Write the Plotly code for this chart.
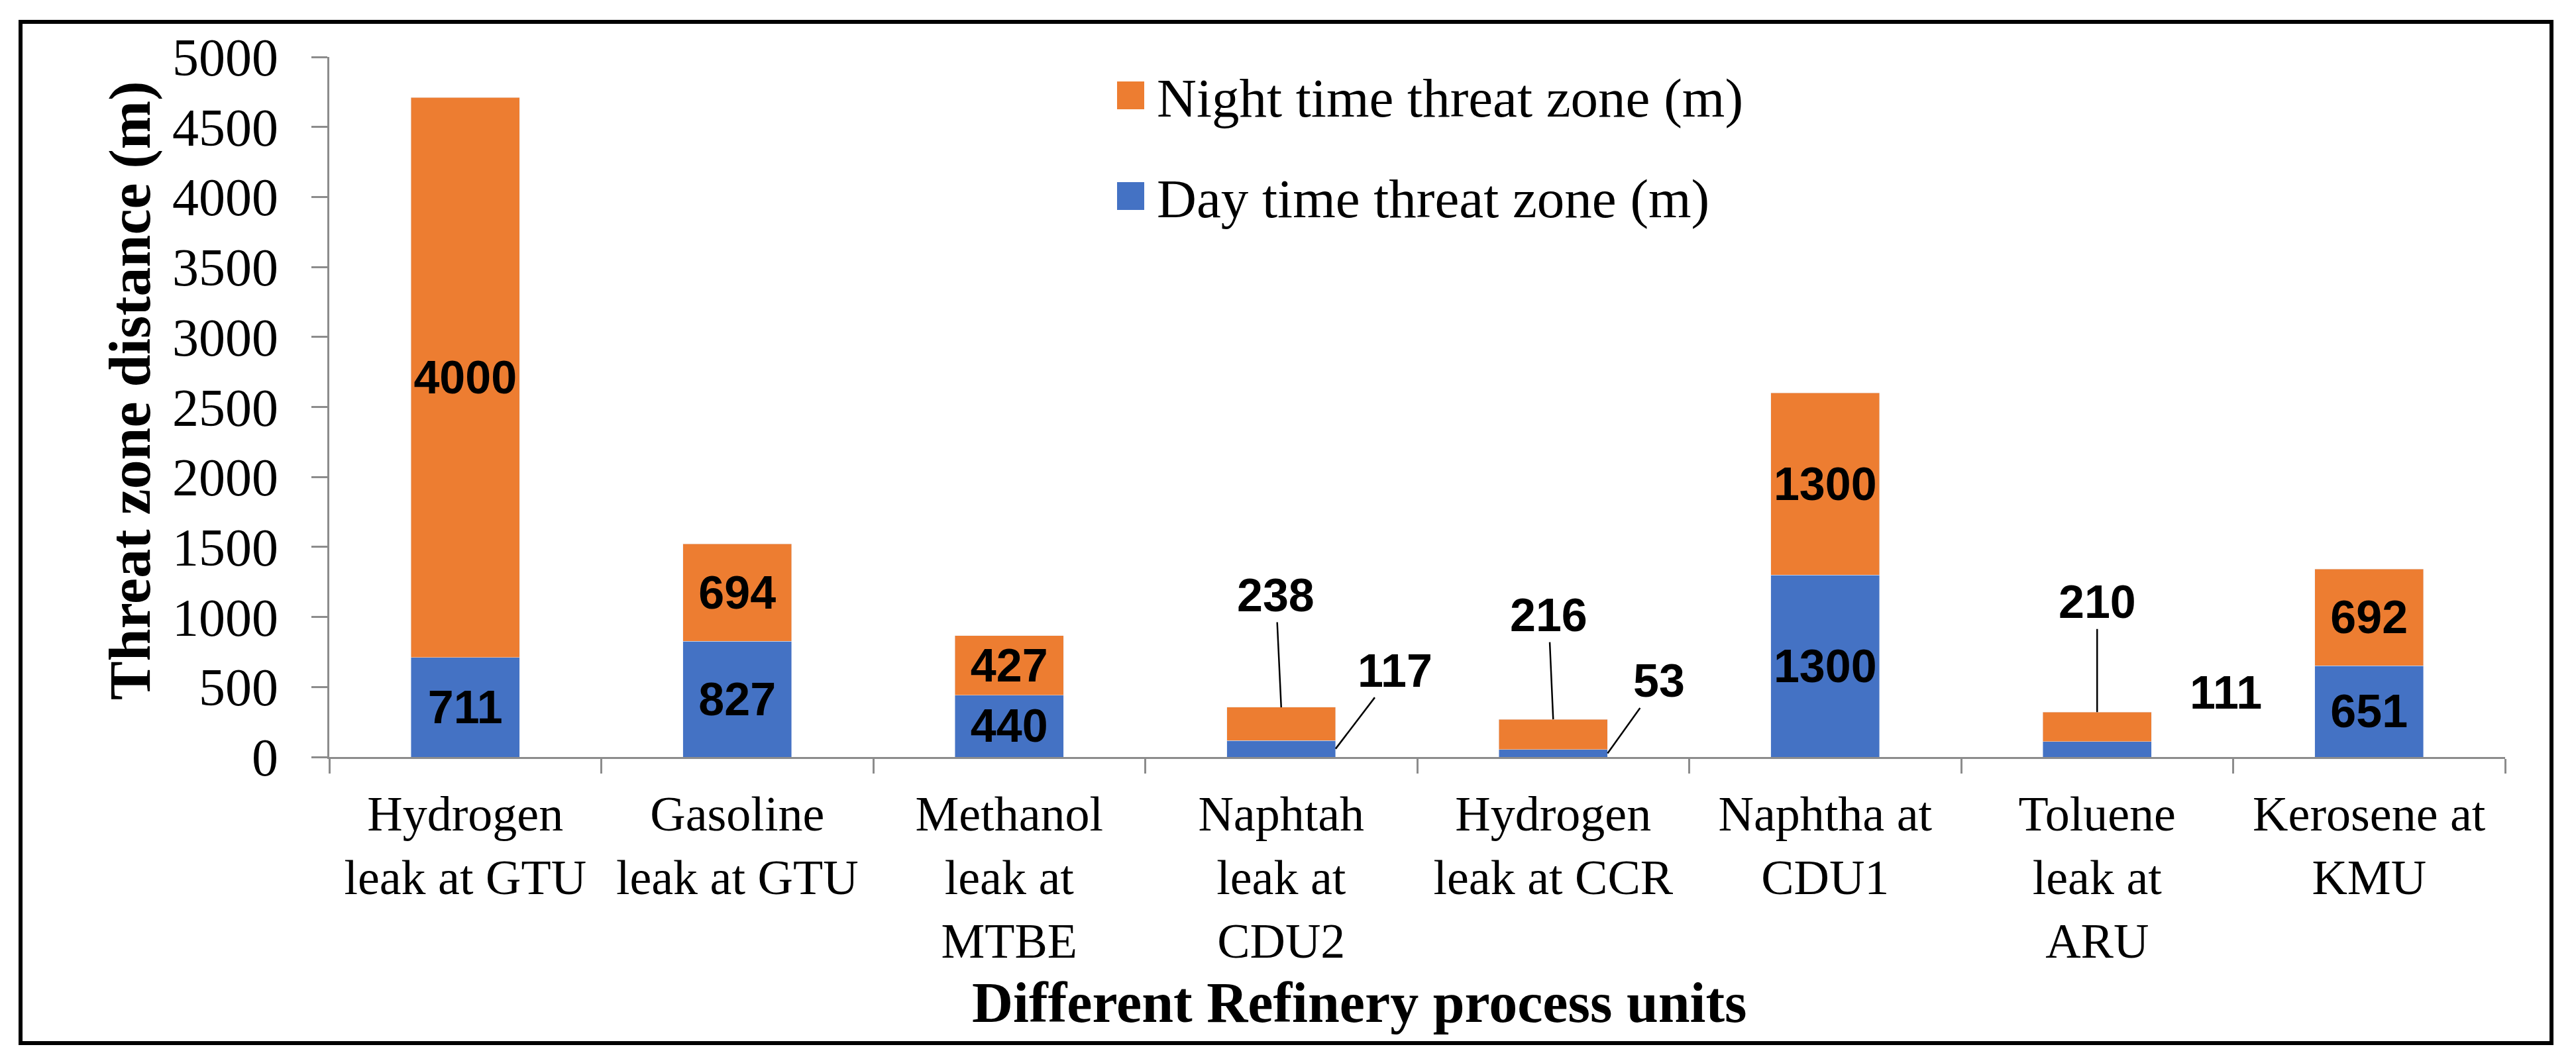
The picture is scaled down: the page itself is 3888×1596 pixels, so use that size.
import plotly.graph_objects as go

# Threat zone distances
categories = [
    "Hydrogen<br>leak at GTU",
    "Gasoline<br>leak at GTU",
    "Methanol<br>leak at<br>MTBE",
    "Naphtah<br>leak at<br>CDU2",
    "Hydrogen<br>leak at CCR",
    "Naphtha at<br>CDU1",
    "Toluene<br>leak at<br>ARU",
    "Kerosene at<br>KMU",
]
day_zone = [711, 827, 440, 117, 53, 1300, 111, 651]
night_zone = [4000, 694, 427, 238, 216, 1300, 210, 692]
y_ticks = [0, 500, 1000, 1500, 2000, 2500, 3000, 3500, 4000, 4500, 5000]

DAY_NAME = "Day time threat zone (m)"
NIGHT_NAME = "Night time threat zone (m)"
DAY_COLOR = "#4472C4"
NIGHT_COLOR = "#ED7D31"
AXIS_GRAY = "#8C8C8C"
SERIF = "Liberation Serif, Times New Roman, serif"
LABEL_FONT = dict(family="Liberation Sans, Arial, sans-serif", size=70, color="black", weight="bold")

# page is 3888x1596, the html body adds an 8px margin around the figure
PAGE_W, PAGE_H, OFF = 3888, 1596, 8
W, H = PAGE_W - 2 * OFF, PAGE_H - 2 * OFF
# plot area in page pixels
L, R, T, B = 497 - OFF, 3781 - OFF, 86 - OFF, 1143 - OFF
BAR_WIDTH = 0.4


def px_x(x):
    return (x - OFF - L) / (R - L)


def px_y(y):
    return (B - (y - OFF)) / (B - T)


# segments too thin for their label get it outside, with a leader line
INSIDE_MIN = 300
day_text = [str(v) if v >= INSIDE_MIN else "" for v in day_zone]
night_text = [str(v) if v >= INSIDE_MIN else "" for v in night_zone]

fig = go.Figure()
fig.add_bar(x=categories, y=day_zone, name=DAY_NAME, marker_color=DAY_COLOR,
            text=day_text, textposition="inside", insidetextanchor="middle",
            textangle=0, constraintext="none", textfont=LABEL_FONT, showlegend=False)
fig.add_bar(x=categories, y=night_zone, name=NIGHT_NAME, marker_color=NIGHT_COLOR,
            text=night_text, textposition="inside", insidetextanchor="middle",
            textangle=0, constraintext="none", textfont=LABEL_FONT, showlegend=False)

# offsets (px) of the outside labels from the point they refer to
outside_offsets = {
    ("night", 3): (-8, -169), ("day", 3): (90, -118),
    ("night", 4): (-7, -157), ("day", 4): (78, -109),
    ("night", 6): (0, -166), ("day", 6): (112, -85),
}
no_leader = {("day", 6)}

for i, (d, n) in enumerate(zip(day_zone, night_zone)):
    for series, val in (("day", d), ("night", n)):
        if val >= INSIDE_MIN:
            continue
        if series == "night":
            tip_x, tip_y = i, d + n
        else:
            tip_x, tip_y = i + BAR_WIDTH / 2, d / 2
        ax, ay = outside_offsets[(series, i)]
        fig.add_annotation(
            x=tip_x, y=tip_y, text=str(val), font=LABEL_FONT,
            showarrow=True, arrowhead=0, arrowwidth=2.5, standoff=0,
            arrowcolor="rgba(0,0,0,0)" if (series, i) in no_leader else "black",
            ax=ax, ay=ay,
        )

# legend keys drawn large, as in the original
legend_rows = [(NIGHT_NAME, NIGHT_COLOR, 144), (DAY_NAME, DAY_COLOR, 296)]
for name, color, cy in legend_rows:
    fig.add_shape(type="rect", xref="paper", yref="paper",
                  x0=px_x(1686), x1=px_x(1727), y0=px_y(cy + 21), y1=px_y(cy - 21),
                  fillcolor=color, line_width=0)
    fig.add_annotation(xref="paper", yref="paper", x=px_x(1744), y=px_y(cy + 4),
                       xanchor="left", yanchor="middle", showarrow=False, text=name,
                       font=dict(family=SERIF, size=83, color="black"))

# axis titles
fig.add_annotation(xref="paper", yref="paper", x=px_x(2052), y=px_y(1514),
                   xanchor="center", yanchor="middle", showarrow=False,
                   text="Different Refinery process units",
                   font=dict(family=SERIF, size=86, color="black", weight="bold"))
fig.add_annotation(xref="paper", yref="paper", x=px_x(196), y=px_y(590),
                   xanchor="center", yanchor="middle", showarrow=False, textangle=-90,
                   text="Threat zone distance (m)",
                   font=dict(family=SERIF, size=88, color="black", weight="bold"))

# outer frame
fig.add_shape(type="rect", xref="paper", yref="paper",
              x0=px_x(31), x1=px_x(3851), y0=px_y(1575), y1=px_y(33),
              line=dict(color="black", width=6), fillcolor="rgba(0,0,0,0)")

fig.update_layout(
    barmode="stack",
    bargap=1 - BAR_WIDTH,
    width=W, height=H,
    margin=dict(l=L, r=W - R, t=T, b=H - B, pad=0),
    paper_bgcolor="white", plot_bgcolor="white",
    font=dict(family=SERIF, color="black"),
    uniformtext=dict(minsize=70, mode="show"),
)
fig.update_xaxes(
    showline=True, linecolor=AXIS_GRAY, linewidth=3,
    ticks="outside", tickson="boundaries", ticklen=22, tickwidth=3, tickcolor=AXIS_GRAY,
    tickfont=dict(family=SERIF, size=74, color="black"), ticklabelstandoff=19,
    showgrid=False, automargin=False,
)
fig.update_yaxes(
    range=[0, 5000], tickvals=y_ticks, showline=True, linecolor=AXIS_GRAY, linewidth=3,
    ticks="outside", ticklen=24, tickwidth=3, tickcolor=AXIS_GRAY,
    tickfont=dict(family=SERIF, size=80, color="black"), ticklabelstandoff=34,
    showgrid=False, zeroline=False, automargin=False,
)

fig.write_html("out.html")
